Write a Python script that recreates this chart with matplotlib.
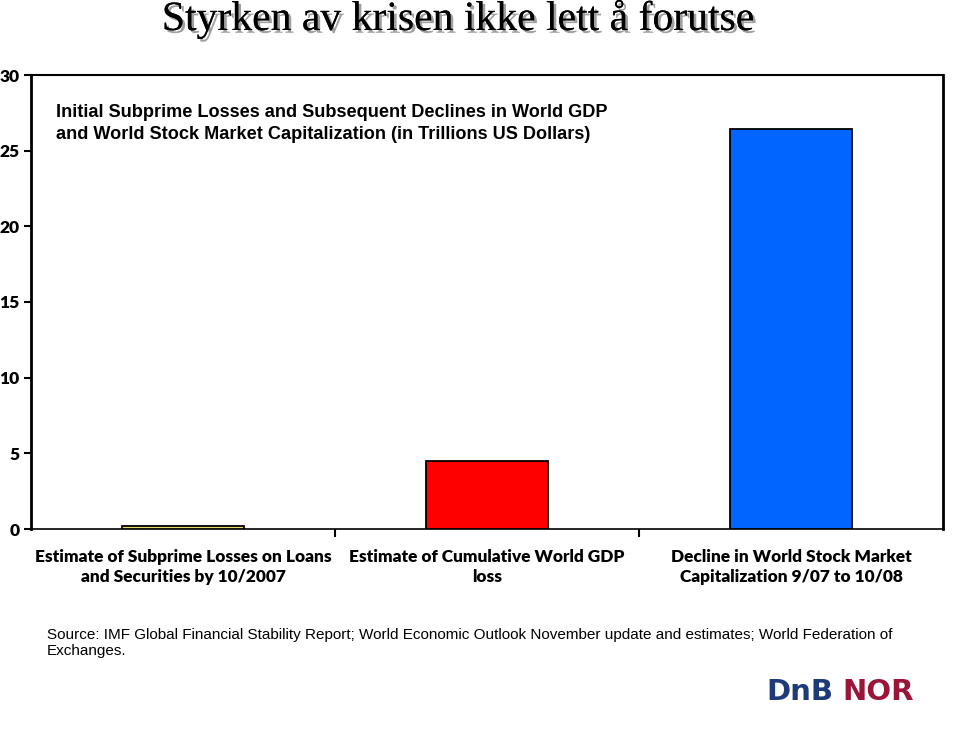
import numpy as np
import matplotlib
matplotlib.use('Agg')
import matplotlib.pyplot as plt
import matplotlib.patheffects as pe

# data
categories = ['Estimate of Subprime Losses on Loans\nand Securities by 10/2007',
              'Estimate of Cumulative World GDP\nloss',
              'Decline in World Stock Market\nCapitalization 9/07 to 10/08']
values = [0.2, 4.5, 26.4]
bar_colors = ['#e6dc6a', '#ff0000', '#0066ff']
y_ticks = [0, 5, 10, 15, 20, 25, 30]

fig = plt.figure(figsize=(9.6, 7.35), dpi=100)
fig.patch.set_facecolor('white')

ax = fig.add_axes([31/960, 1-529/735, (943-31)/960, (529-75)/735])
x = np.arange(len(values))
ax.bar(x, values, width=0.4, color=bar_colors, edgecolor='black', linewidth=1.3, zorder=3)

ax.set_xlim(-0.5, 2.5)
ax.set_ylim(0, 30)
ax.set_yticks(y_ticks)
ax.set_yticklabels([str(t) for t in y_ticks], fontfamily='Lato', fontweight='heavy', fontsize=12.5)
ax.tick_params(axis='y', direction='out', length=5, width=1.5, pad=3)

# ticks between categories on x axis
ax.set_xticks([0.5, 1.5])
ax.set_xticklabels([])
ax.tick_params(axis='x', direction='out', length=6, width=1.5)

ax.spines['left'].set_linewidth(2)
ax.spines['bottom'].set_linewidth(1.2)
ax.spines['top'].set_linewidth(1.5)
ax.spines['right'].set_linewidth(2)

# category labels
for xi, lab in zip(x, categories):
    ax.text(xi, -1.3, lab, ha='center', va='top', fontfamily='Lato', fontweight='heavy',
            fontsize=12.4, linespacing=1.35, transform=ax.transData, clip_on=False)

# inner chart title
ax.text(56/960, 1-104/735, 'Initial Subprime Losses and Subsequent Declines in World GDP\n'
        'and World Stock Market Capitalization (in Trillions US Dollars)',
        transform=fig.transFigure, ha='left', va='top', fontfamily='Liberation Sans',
        fontweight='bold', fontsize=13.1, linespacing=1.38)

# main title
fig.text(458/960, 1-19/735, 'Styrken av krisen ikke lett å forutse', ha='center', va='center',
         fontfamily='Liberation Serif', fontsize=30,
         path_effects=[pe.withSimplePatchShadow(offset=(2, -2), shadow_rgbFace='#888888', alpha=0.8),
                       pe.Normal()])

# source
fig.text(47/960, 1-628/735, 'Source: IMF Global Financial Stability Report; World Economic Outlook November '
         'update and estimates; World Federation of\nExchanges.',
         ha='left', va='top', fontfamily='Liberation Sans', fontsize=10.95, linespacing=1.2)

# logo
fig.text(766/960, 1-692/735, 'DnB', ha='left', va='center', fontfamily='DejaVu Sans',
         fontweight='bold', fontsize=21, color='#1f3a78')
fig.text(842/960, 1-692/735, 'NOR', ha='left', va='center', fontfamily='DejaVu Sans',
         fontweight='bold', fontsize=21, color='#9a1538')

fig.savefig('out.png', dpi=100, facecolor='white')
